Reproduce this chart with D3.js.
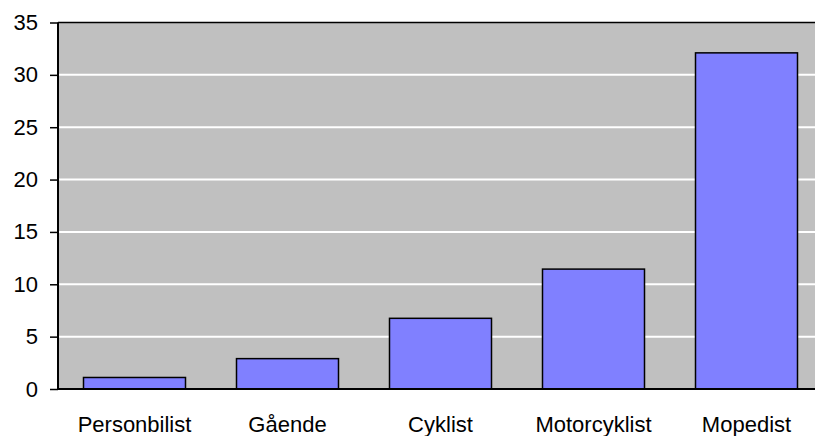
<!DOCTYPE html>
<html><head><meta charset="utf-8">
<script src="https://cdn.jsdelivr.net/npm/d3@7"></script>
<style>body{margin:0;background:#fff}svg{display:block}</style>
</head><body>
<script>
const categories = ["Personbilist", "Gående", "Cyklist", "Motorcyklist", "Mopedist"];
const values = [1.1, 2.9, 6.75, 11.45, 32.1];
const yTicks = [0, 5, 10, 15, 20, 25, 30, 35];

const W = 815, H = 436;
const m = {left: 58, top: 22.5, bottom: 389};
const plotRight = 823;
const svg = d3.select("body").append("svg").attr("width", W).attr("height", H)
  .style("font-family", "'Liberation Sans', Arial, sans-serif");

const x = d3.scaleBand().domain(categories).range([m.left, plotRight]).paddingInner(1/3).paddingOuter(1/6);
const y = d3.scaleLinear().domain([0, 35]).range([m.bottom, m.top]);

svg.append("rect").attr("x", m.left).attr("y", m.top).attr("width", plotRight - m.left).attr("height", m.bottom - m.top).attr("fill", "#c0c0c0");

svg.append("g").selectAll("line").data(yTicks.filter(d => d > 0 && d < 35)).join("line")
  .attr("x1", m.left).attr("x2", plotRight).attr("y1", d => y(d)).attr("y2", d => y(d))
  .attr("stroke", "#fff").attr("stroke-width", 2);

svg.append("line").attr("x1", m.left).attr("x2", plotRight).attr("y1", m.top).attr("y2", m.top).attr("stroke", "#000").attr("stroke-width", 1.5);

svg.append("g").selectAll("rect").data(values).join("rect")
  .attr("x", (d, i) => x(categories[i])).attr("width", x.bandwidth())
  .attr("y", d => y(d)).attr("height", d => y(0) - y(d))
  .attr("fill", "#8080ff").attr("stroke", "#000").attr("stroke-width", 1.5);

const yAxis = svg.append("g").attr("transform", `translate(${m.left},0)`)
  .call(d3.axisLeft(y).tickValues(yTicks).tickSize(8).tickPadding(12).tickFormat(d3.format("d")));
yAxis.select(".domain").attr("stroke-width", 2).attr("d", `M0,${m.top}V${m.bottom}`);
yAxis.selectAll(".tick line").attr("stroke-width", 1.5);
yAxis.selectAll("text").attr("font-size", 22).attr("fill", "#000").attr("font-family", "'Liberation Sans', Arial, sans-serif");

const xAxis = svg.append("g").attr("transform", `translate(0,${m.bottom})`)
  .call(d3.axisBottom(x).tickSize(0).tickPadding(27));
xAxis.select(".domain").attr("stroke-width", 2).attr("d", `M${m.left},0H${plotRight}`);
xAxis.selectAll("text").attr("font-size", 22).attr("fill", "#000").attr("font-family", "'Liberation Sans', Arial, sans-serif");
</script>
</body></html>
